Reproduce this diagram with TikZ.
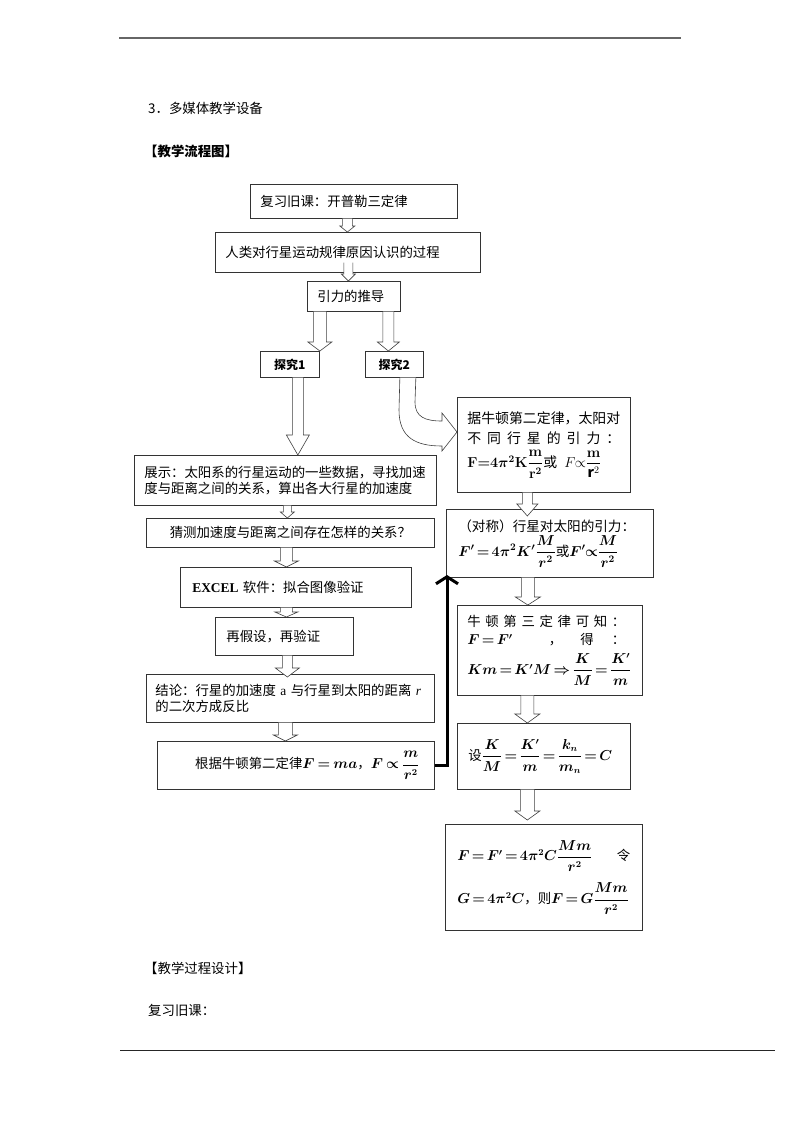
\documentclass[tikz,border=0pt]{standalone}
\usepackage{amsmath}
\usepackage{fontspec}
\setmainfont{Noto Sans CJK SC}
\newfontfamily\tnr{Liberation Serif}
\usetikzlibrary{calc,arrows.meta}
\newcommand\fsz{\fontsize{13.4}{17}\selectfont}
\newcommand\tightmath{\thickmuskip=2.5mu plus 1mu\medmuskip=1.5mu plus 1mu\boldmath}
\tikzset{
  box/.style={draw=black!80, line width=0.7pt, fill=white, anchor=north west, inner ysep=0pt, font=\fsz},
  hollow/.style n args={3}{draw=black!75, line width=0.6pt, fill=white,
    to path={let \p1=(\tikztostart), \p2=(\tikztotarget) in
      (\x1-#1,\y1) -- (\x1-#1,\y2+#3) -- (\x1-#2,\y2+#3) -- (\x1,\y2) -- (\x1+#2,\y2+#3) -- (\x1+#1,\y2+#3) -- (\x1+#1,\y1)}},
  plain/.style={anchor=west, inner sep=0pt, font=\fsz},
  link/.style={line width=3pt, -{Straight Barb[length=7pt,width=22pt]}}
}
\begin{document}
\begin{tikzpicture}[x=1pt,y=-1pt]
\useasboundingbox (0,0) rectangle (800,1132);
% page rules
\draw[black!60, line width=1.2pt] (119,38) -- (681,38);
\draw[black!85, line width=0.9pt] (120,1050) -- (775,1050);
% headings
\node[plain] (h1) at (148,108) {3．多媒体教学设备};
\node[plain, font=\fsz\bfseries] (h2) at (144,151) {【教学流程图】};
\node[plain] (h3) at (144,968) {【教学过程设计】};
\node[plain] (h4) at (148,1010) {复习旧课：};
% left column
\node[box, minimum width=207pt, minimum height=34pt, inner xsep=10pt, text width=187pt, align=left] (b1) at (250,184) {复习旧课：开普勒三定律};
\node[box, minimum width=265pt, minimum height=40pt, inner xsep=10pt, text width=245pt, align=left] (b2) at (215,232) {人类对行星运动规律原因认识的过程};
\node[box, minimum width=93pt, minimum height=30pt, inner xsep=10pt, text width=73pt, align=left] (b3) at (307,281) {引力的推导};
\node[box, minimum width=59pt, minimum height=26pt, inner xsep=0pt, font=\fontsize{12}{14}\selectfont\bfseries] (t1) at (260,351) {探究1};
\node[box, minimum width=58pt, minimum height=26pt, inner xsep=0pt, font=\fontsize{12}{14}\selectfont\bfseries] (t2) at (365,351) {探究2};
\node[box, minimum width=302pt, minimum height=50pt, inner xsep=10pt, text width=282pt, align=left, font=\fontsize{13.4}{16}\selectfont] (show) at (134,455) {展示：太阳系的行星运动的一些数据，寻找加速\\度与距离之间的关系，算出各大行星的加速度};
\node[box, minimum width=288pt, minimum height=29pt, inner xsep=0pt] (guess) at (146,518) {猜测加速度与距离之间存在怎样的关系？};
\node[box, minimum width=231pt, minimum height=40pt, inner xsep=12pt, text width=207pt, align=left] (excel) at (180,567) {{\tnr\bfseries EXCEL} 软件：拟合图像验证};
\node[box, minimum width=138pt, minimum height=38pt, inner xsep=11pt, text width=116pt, align=left] (again) at (215,617) {再假设，再验证};
\node[box, minimum width=288pt, minimum height=48pt, inner xsep=9pt, text width=270pt, align=left, font=\fontsize{13.4}{16}\selectfont] (concl) at (146,674) {结论：行星的加速度 {\tnr a} 与行星到太阳的距离 {\tnr\itshape r}\\的二次方成反比};
\node[box, minimum width=277pt, minimum height=48pt, inner xsep=15pt, text width=247pt, align=right, font=\fsz\tightmath] (n2) at (157,741) {根据牛顿第二定律$F=ma$，$F\propto\dfrac{m}{r^2}$};
% right column
\node[box, minimum width=173pt, minimum height=95pt, inner xsep=10pt, text width=153pt, align=left, font=\fontsize{13.9}{20}\selectfont\tightmath] (j1) at (457,397) {据牛顿第二定律，太阳对\\\makebox[153pt][s]{不\hfil 同\hfil 行\hfil 星\hfil 的\hfil 引\hfil 力\hfil ：}\\[4pt]$\mathbf{F}{=}4\pi^2\mathbf{K}\dfrac{\mathbf{m}}{\mathbf{r}^2}$或\enspace {\unboldmath$F\!\propto\!\dfrac{\boldsymbol{\mathbf{m}}}{\mathbf{r}^2}$}};
\node[box, minimum width=207pt, minimum height=68pt, inner xsep=12pt, text width=183pt, align=left, font=\fontsize{13.6}{17}\selectfont\tightmath] (sym) at (446,509) {（对称）行星对太阳的引力：\\[2pt]$F'=4\pi^2K'\dfrac{M}{r^2}$或$F'\!\propto\!\dfrac{M}{r^2}$};
\node[box, minimum width=185pt, minimum height=90pt, inner xsep=10pt, text width=165pt, align=left, font=\fontsize{13.4}{18}\selectfont\tightmath] (n3) at (457,605) {\makebox[158pt][s]{牛\hfil 顿\hfil 第\hfil 三\hfil 定\hfil 律\hfil 可\hfil 知\hfil ：}\\\makebox[158pt][s]{$F=F'$\hfil\hfil ，\hfil 得\hfil ：}\\[6pt]$Km=K'M\Rightarrow\dfrac{K}{M}=\dfrac{K'}{m}$};
\node[box, minimum width=173pt, minimum height=66pt, inner xsep=11pt, text width=151pt, align=left, font=\fsz\tightmath] (set) at (457,723) {设$\dfrac{K}{M}=\dfrac{K'}{m}=\dfrac{k_n}{m_n}=C$};
\node[box, minimum width=197pt, minimum height=106pt, inner xsep=12pt, text width=173pt, align=left, font=\fsz\tightmath] (fin) at (445,824) {$F=F'=4\pi^2C\dfrac{Mm}{r^2}$\hfill 令\\[10pt]$G=4\pi^2C$，则$F=G\dfrac{Mm}{r^2}$};
% hollow arrows, left column
\coordinate (a1) at ($(b1.south)+(-6.5,0)$);
\draw[hollow={5pt}{7.5pt}{6pt}] (a1) to (a1 |- b2.north);
\coordinate (a2) at ($(b2.south)+(0.5,-10)$);
\draw[hollow={4.5pt}{7pt}{7pt}] (a2) to (a2 |- b3.north);
\coordinate (a3) at ($(b3.south)+(-34,0)$);
\draw[hollow={6.5pt}{12pt}{9pt}] (a3) to (a3 |- t1.north);
\coordinate (a4) at ($(b3.south)+(34.5,0)$);
\draw[hollow={5.5pt}{11pt}{9pt}] (a4) to (a4 |- t2.north);
\coordinate (a5) at ($(t1.south)+(8,0)$);
\draw[hollow={5.5pt}{11.5pt}{20pt}] (a5) to (a5 |- show.north);
\coordinate (a6) at ($(show.south)+(2,0)$);
\draw[hollow={4pt}{7pt}{6pt}] (a6) to (a6 |- guess.north);
\coordinate (a7) at ($(guess.south)+(-4,0)$);
\draw[hollow={6pt}{12pt}{6pt}] (a7) to (a7 |- excel.north);
\coordinate (a8) at ($(excel.south)+(-9.5,0)$);
\draw[hollow={6pt}{11.5pt}{5pt}] (a8) to (a8 |- again.north);
\coordinate (a9) at ($(again.south)+(3,0)$);
\draw[hollow={5pt}{12pt}{9pt}] (a9) to ($(a9 |- concl.north)+(0,3)$);
\coordinate (a10) at ($(concl.south)+(-5,0)$);
\draw[hollow={7pt}{12pt}{6pt}] (a10) to (a10 |- n2.north);
% hollow arrows, right column
\coordinate (r1) at ($(j1.south)+(-16.5,0)$);
\draw[hollow={5pt}{10.5pt}{12pt}] (r1) to ($(r1 |- sym.north)+(0,7)$);
\coordinate (r2) at ($(sym.south)+(-22,0)$);
\draw[hollow={6.5pt}{12.5pt}{8pt}] (r2) to (r2 |- n3.north);
\coordinate (r3) at ($(n3.south)+(-22.5,0)$);
\draw[hollow={6.5pt}{12.5pt}{9pt}] (r3) to (r3 |- set.north);
\coordinate (r4) at ($(set.south)+(-16.5,0)$);
\draw[hollow={7pt}{12.5pt}{9pt}] (r4) to ($(r4 |- fin.north)+(0,-4)$);
% curved hollow arrow from 探究2
\coordinate (ctip) at (457,432);
\draw[draw=black!75, line width=0.6pt, fill=white]
  ($(t2.south)+(5.5,0)$) -- (399,410) .. controls (399,438) and (416,446) .. (442,446)
  -- (442,451) -- (ctip) -- (442,413) -- (442,421)
  .. controls (425,421) and (415,417) .. (415,402) -- ($(t2.south)+(21.5,0)$);
% black connector
\coordinate (up) at (447,575);
\draw[link] (n2.east) -| (up);
\end{tikzpicture}
\end{document}
